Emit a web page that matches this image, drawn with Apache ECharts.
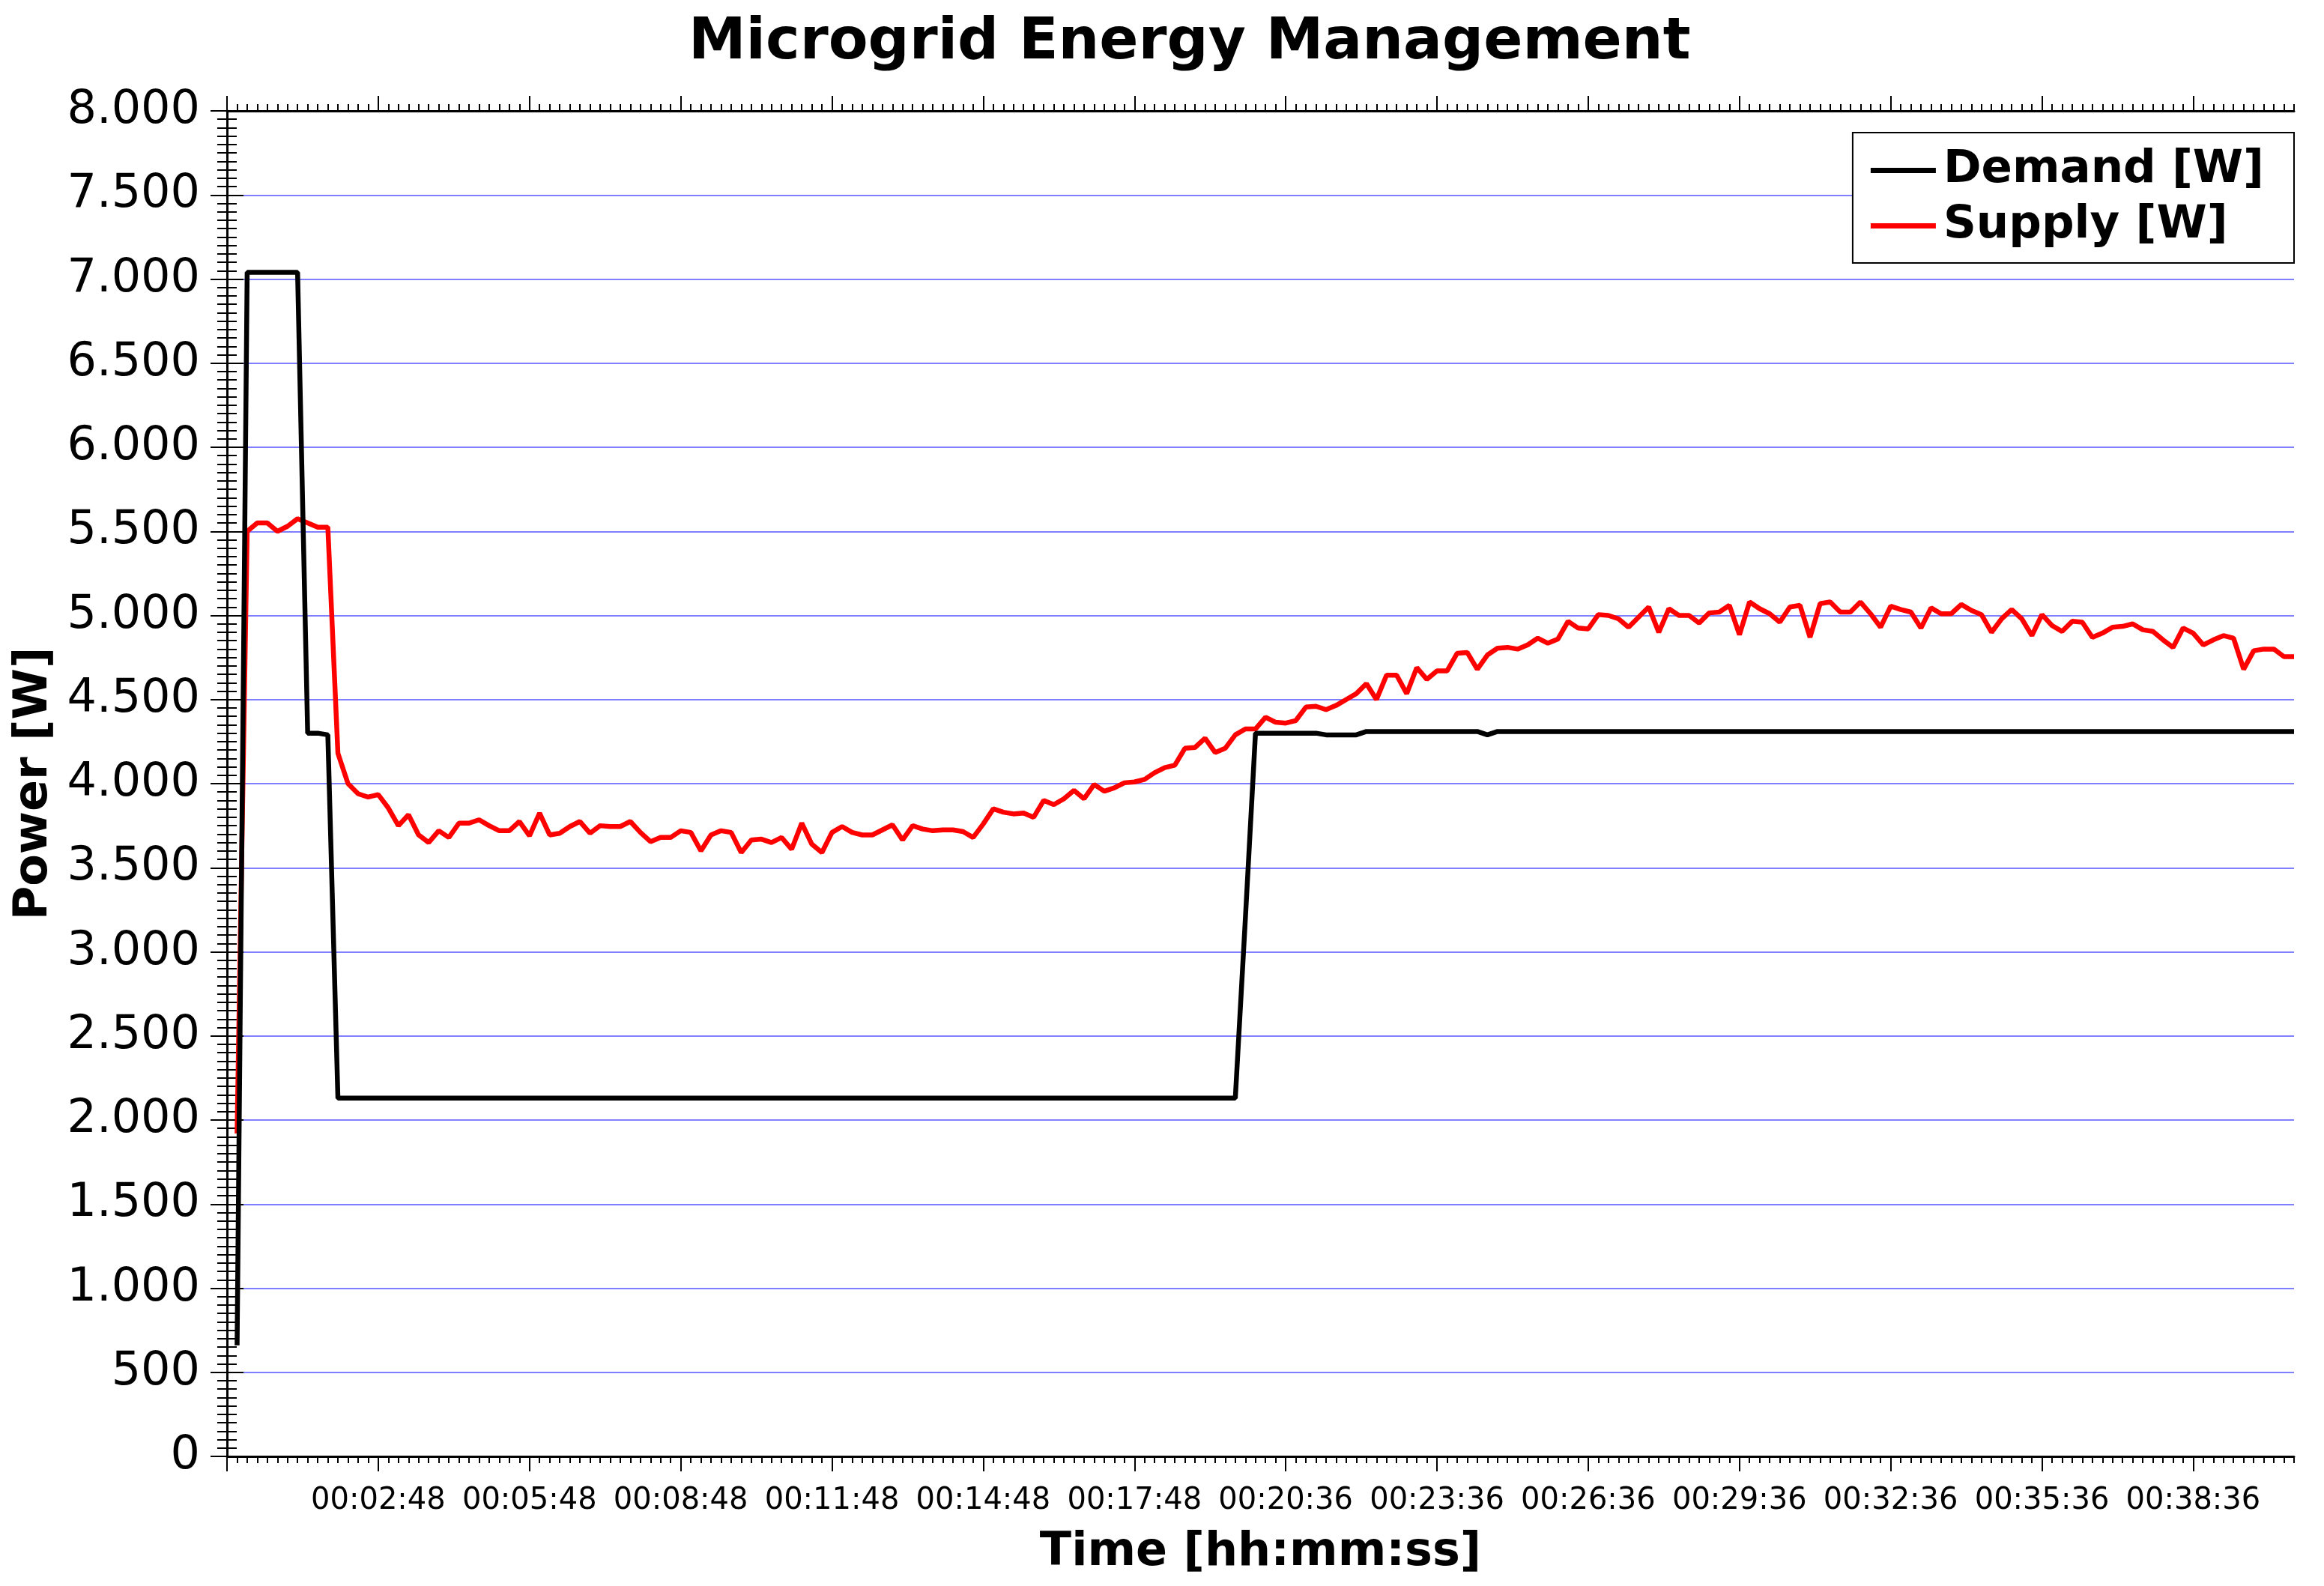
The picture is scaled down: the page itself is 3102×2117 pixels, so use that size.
<!DOCTYPE html>
<html>
<head>
<meta charset="utf-8">
<title>Microgrid Energy Management</title>
<script src="https://cdn.jsdelivr.net/npm/echarts@6.0.0/dist/echarts.min.js"></script>
<style>
  html, body { margin: 0; padding: 0; background: #fff; }
  #chart { width: 3102px; height: 2117px; }
</style>
</head>
<body>
<div id="chart"></div>
<script>
// tick labels of the time axis, one per major tick (every 15 samples, from sample 15)
var timeLabels = ['00:02:48', '00:05:48', '00:08:48', '00:11:48', '00:14:48', '00:17:48',
    '00:20:36', '00:23:36', '00:26:36', '00:29:36', '00:32:36', '00:35:36', '00:38:36'];

// demand [W], samples 1..205
var demand = [
    660, 7040, 7040, 7040, 7040, 7040, 7040, 4300, 4300, 4290,
    2130, 2130, 2130, 2130, 2130, 2130, 2130, 2130, 2130, 2130, 2130, 2130, 2130, 2130, 2130,
    2130, 2130, 2130, 2130, 2130, 2130, 2130, 2130, 2130, 2130, 2130, 2130, 2130, 2130, 2130,
    2130, 2130, 2130, 2130, 2130, 2130, 2130, 2130, 2130, 2130, 2130, 2130, 2130, 2130, 2130,
    2130, 2130, 2130, 2130, 2130, 2130, 2130, 2130, 2130, 2130, 2130, 2130, 2130, 2130, 2130,
    2130, 2130, 2130, 2130, 2130, 2130, 2130, 2130, 2130, 2130, 2130, 2130, 2130, 2130, 2130,
    2130, 2130, 2130, 2130, 2130, 2130, 2130, 2130, 2130, 2130, 2130, 2130, 2130, 2130, 2130,
    3200,
    4300, 4300, 4300, 4300, 4300, 4300, 4300,
    4290, 4290, 4290, 4290,
    4310, 4310, 4310, 4310, 4310, 4310, 4310, 4310, 4310, 4310, 4310, 4310,
    4290,
    4310, 4310, 4310, 4310, 4310, 4310, 4310, 4310, 4310, 4310,
    4310, 4310, 4310, 4310, 4310, 4310, 4310, 4310, 4310, 4310,
    4310, 4310, 4310, 4310, 4310, 4310, 4310, 4310, 4310, 4310,
    4310, 4310, 4310, 4310, 4310, 4310, 4310, 4310, 4310, 4310,
    4310, 4310, 4310, 4310, 4310, 4310, 4310, 4310, 4310, 4310,
    4310, 4310, 4310, 4310, 4310, 4310, 4310, 4310, 4310, 4310,
    4310, 4310, 4310, 4310, 4310, 4310, 4310, 4310, 4310, 4310,
    4310, 4310, 4310, 4310, 4310, 4310, 4310, 4310, 4310, 4310
];

// supply [W], samples 1..205
var supply = [
    1920, 5500, 5550, 5550, 5500, 5530, 5575, 5550, 5525, 5525,
    4180, 4000, 3940, 3920, 3935, 3855, 3750, 3815, 3695, 3650,
    3720, 3680, 3765, 3765, 3785, 3750, 3720, 3720, 3775, 3690,
    3825, 3695, 3705, 3745, 3775, 3705, 3750, 3745, 3745, 3775,
    3710, 3655, 3680, 3680, 3720, 3710, 3600, 3695, 3720, 3710,
    3590, 3665, 3670, 3650, 3680, 3610, 3765, 3640, 3590, 3710,
    3745, 3710, 3695, 3695, 3725, 3755, 3665, 3750, 3730, 3720,
    3725, 3725, 3715, 3680, 3760, 3850, 3830, 3820, 3825, 3800,
    3900, 3875, 3910, 3960, 3910, 3995, 3955, 3975, 4005, 4010,
    4025, 4065, 4095, 4110, 4210, 4215, 4270, 4185, 4210, 4290,
    4325, 4325, 4395, 4365, 4360, 4375, 4455, 4460, 4440, 4465,
    4500, 4535, 4595, 4500, 4645, 4645, 4535, 4690, 4620, 4670,
    4670, 4775, 4780, 4680, 4765, 4805, 4810, 4800, 4825, 4865,
    4835, 4860, 4965, 4925, 4920, 5005, 5000, 4980, 4930, 4990,
    5050, 4900, 5040, 5000, 5000, 4955, 5015, 5020, 5060, 4885,
    5080, 5040, 5010, 4960, 5050, 5060, 4870, 5070, 5080, 5020,
    5020, 5080, 5010, 4930, 5055, 5035, 5020, 4925, 5045, 5010,
    5010, 5065, 5030, 5005, 4900, 4980, 5035, 4980, 4880, 5005,
    4940, 4905, 4965, 4960, 4870, 4895, 4930, 4935, 4950, 4915,
    4905, 4855, 4810, 4925, 4895, 4825, 4855, 4880, 4865, 4680,
    4790, 4800, 4800, 4755, 4755
];

var FONT = 'DejaVu Sans';
var lastSample = 205;
var labelStep = 15;

// positions of the major ticks and of the labelled ticks on the time axis
var majorTicks = [0];
var labelTicks = [];
timeLabels.forEach(function (t, k) {
    majorTicks.push((k + 1) * labelStep);
    labelTicks.push((k + 1) * labelStep);
});

function toPairs(values) {
    return values.map(function (v, k) { return [k + 1, v]; });
}

function dotThousands(v) {
    return String(v).replace(/\B(?=(\d{3})+(?!\d))/g, '.');
}

// every sample gets a short tick, the labelled ones a long tick
function timeAxis(position, withLabels, major) {
    return {
        type: 'value',
        position: position,
        min: 0,
        max: lastSample,
        interval: major ? labelStep : 1,
        axisLine: { show: !major, lineStyle: { color: '#000', width: 3 } },
        axisTick: major
            ? { show: true, customValues: majorTicks, length: 20, lineStyle: { color: '#000', width: 2 } }
            : { show: true, length: 9, lineStyle: { color: '#000', width: 2 } },
        axisLabel: withLabels ? {
            show: true,
            customValues: labelTicks,
            margin: 40,
            fontFamily: FONT,
            fontSize: 40,
            color: '#000',
            formatter: function (v) { return timeLabels[Math.round(v / labelStep) - 1] || ''; }
        } : { show: false },
        splitLine: { show: false },
        name: withLabels ? 'Time [hh:mm:ss]' : '',
        nameLocation: 'middle',
        nameGap: 98,
        nameTextStyle: { fontFamily: FONT, fontSize: 62, fontWeight: 'bold', color: '#000' }
    };
}

function powerAxis(position, withLabels) {
    return {
        type: 'value',
        position: position,
        min: 0,
        max: 8000,
        interval: 500,
        axisLine: { show: true, lineStyle: { color: '#000', width: 3 } },
        axisTick: { show: true, length: 22, lineStyle: { color: '#000', width: 2 } },
        minorTick: { show: true, splitNumber: 10, length: 13, lineStyle: { color: '#000', width: 2 } },
        axisLabel: withLabels ? {
            show: true, margin: 36, fontFamily: FONT, fontSize: 62, color: '#000',
            formatter: dotThousands
        } : { show: false },
        splitLine: { show: withLabels, lineStyle: { color: '#8080ff', width: 2 } },
        name: withLabels ? 'Power [W]' : '',
        nameLocation: 'middle',
        nameGap: 226,
        nameTextStyle: { fontFamily: FONT, fontSize: 62, fontWeight: 'bold', color: '#000' }
    };
}

var chart = echarts.init(document.getElementById('chart'), null, { renderer: 'canvas' });

var option = {
    backgroundColor: '#fff',
    animation: false,
    title: {
        text: 'Microgrid Energy Management',
        left: 914,
        top: 14,
        textStyle: { fontFamily: FONT, fontSize: 77, fontWeight: 'bold', color: '#000' }
    },
    legend: {
        orient: 'vertical',
        right: 40,
        top: 177,
        align: 'left',
        padding: [20, 40, 19, 24],
        itemGap: 13,
        itemWidth: 87,
        itemHeight: 7,
        borderColor: '#000',
        borderWidth: 2,
        backgroundColor: '#fff',
        textStyle: { fontFamily: FONT, fontSize: 61, fontWeight: 'bold', color: '#000', padding: [0, 0, 0, 5] },
        data: [
            { name: 'Demand [W]', icon: 'rect' },
            { name: 'Supply [W]', icon: 'rect' }
        ]
    },
    grid: { left: 303, right: 40, top: 148, bottom: 173 },
    xAxis: [
        timeAxis('bottom', false, false),
        timeAxis('bottom', true, true),
        timeAxis('top', false, false),
        timeAxis('top', false, true)
    ],
    yAxis: [
        powerAxis('left', true),
        powerAxis('right', false)
    ],
    series: [
        {
            name: 'Demand [W]',
            type: 'line',
            xAxisIndex: 0,
            yAxisIndex: 0,
            data: toPairs(demand),
            showSymbol: false,
            symbol: 'none',
            color: '#000',
            lineStyle: { color: '#000', width: 6.5 },
            z: 3
        },
        {
            name: 'Supply [W]',
            type: 'line',
            xAxisIndex: 0,
            yAxisIndex: 0,
            data: toPairs(supply),
            showSymbol: false,
            symbol: 'none',
            color: '#ff0000',
            lineStyle: { color: '#ff0000', width: 6.5 },
            z: 2
        }
    ]
};

chart.setOption(option);
</script>
</body>
</html>
